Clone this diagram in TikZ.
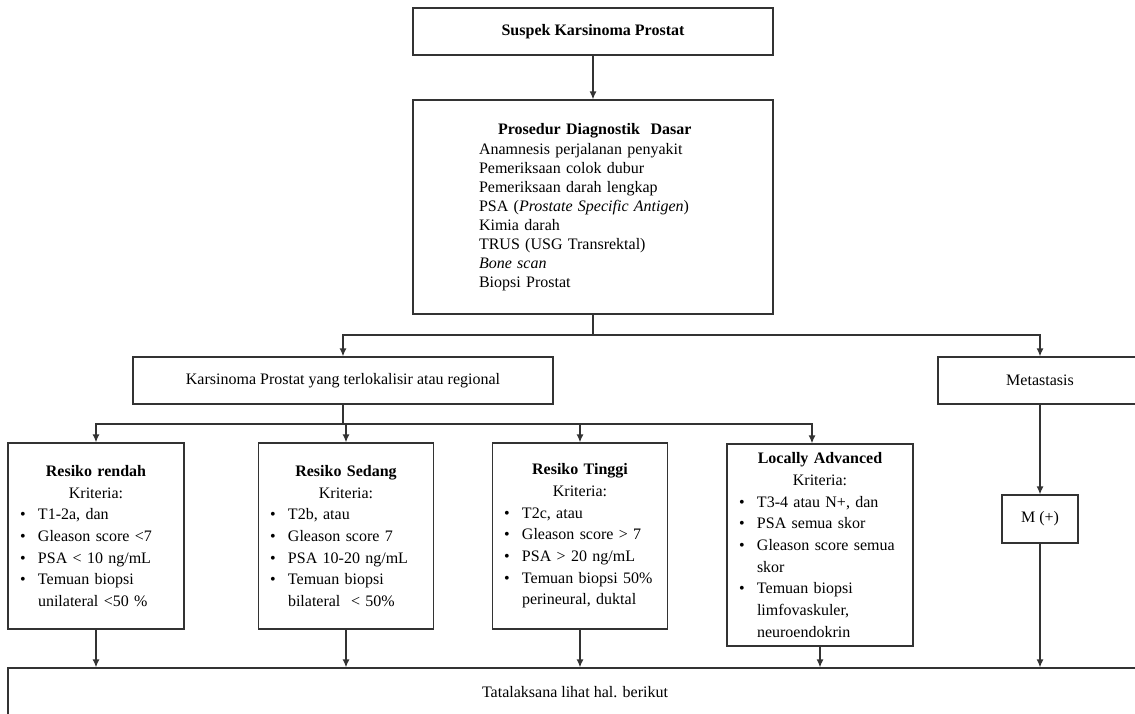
\documentclass[tikz,border=0pt]{standalone}
\usepackage{fontspec}
\setmainfont{Liberation Serif}
\usetikzlibrary{arrows.meta}

\newcommand{\judul}[1]{{\centering\textbf{#1}\\Kriteria:\par}}
\newcommand{\butir}[1]{\par\noindent\makebox[18pt][l]{\textbullet}#1}
\newcommand{\lanjut}[1]{\par\noindent\hspace*{18pt}#1}

\begin{document}
\begin{tikzpicture}[x=1pt,y=-1pt,
                    box/.style={draw=black!80,line width=1.3pt,inner sep=0pt,
                                font=\fontsize{16}{19}\selectfont,align=center},
                    riskbox/.style={box,minimum height=186pt,text width=152pt,
                                    align=left,font=\fontsize{16}{21.7}\selectfont},
                    panah/.style={draw=black!80,line width=1.3pt,-{Latex[length=8pt,width=7pt]}},
                    garis/.style={draw=black!80,line width=1.3pt}
                    ]
   \useasboundingbox (0,0) rectangle (1135,713);
   \clip (0,0) rectangle (1135,713);
   \node[box,minimum width=360pt,minimum height=47pt] (suspek) at (593,31.5) {\textbf{Suspek Karsinoma Prostat}};
   \node[box,minimum width=360pt,minimum height=214pt,text width=228pt,align=left] (diag) at (593,207)
      {\hspace*{19pt}\textbf{Prosedur Diagnostik\ \ Dasar}\\[1pt]
       Anamnesis perjalanan penyakit\\
       Pemeriksaan colok dubur\\
       Pemeriksaan darah lengkap\\
       PSA (\textit{Prostate Specific Antigen})\\
       Kimia darah\\
       TRUS (USG Transrektal)\\
       \textit{Bone scan}\\
       Biopsi Prostat};
   \node[box,minimum width=420pt,minimum height=47pt] (lokal) at (343,380.5) {Karsinoma Prostat yang terlokalisir atau regional};
   \node[box,minimum width=204pt,minimum height=47pt] (meta) at (1040,380.5) {Metastasis};
   \node[riskbox,minimum width=176pt] (rendah) at (96,536)
      {\judul{Resiko rendah}
       \butir{T1-2a, dan}
       \butir{Gleason score <7}
       \butir{PSA < 10 ng/mL}
       \butir{Temuan biopsi}
       \lanjut{unilateral <50 \%}};
   \node[riskbox,minimum width=175pt] (sedang) at (346,536)
      {\judul{Resiko Sedang}
       \butir{T2b, atau}
       \butir{Gleason score 7}
       \butir{PSA 10-20 ng/mL}
       \butir{Temuan biopsi}
       \lanjut{bilateral\ \ < 50\%}};
   \node[riskbox,minimum width=175pt] (tinggi) at (580,536)
      {\judul{Resiko Tinggi}
       \butir{T2c, atau}
       \butir{Gleason score > 7}
       \butir{PSA > 20 ng/mL}
       \butir{Temuan biopsi 50\%}
       \lanjut{perineural, duktal}};
   \node[riskbox,minimum width=186pt,minimum height=202pt,text width=162pt] (lanjut) at (820,545)
      {\judul{Locally Advanced}
       \butir{T3-4 atau N+, dan}
       \butir{PSA semua skor}
       \butir{Gleason score semua}
       \lanjut{skor}
       \butir{Temuan biopsi}
       \lanjut{limfovaskuler,}
       \lanjut{neuroendokrin}};
   \node[box,minimum width=76pt,minimum height=48pt] (mplus) at (1040,519) {M (+)};
   \node[box,minimum width=1134pt,minimum height=48pt] (tata) at (575,692) {Tatalaksana lihat hal. berikut};
   % cabang
   \coordinate (j1) at (593,335);
   \coordinate (j2) at (343,424);
   \path[panah] (suspek) -- (diag);
   \path[garis] (diag.south) -- (j1);
   \path[panah] (j1) -| (lokal.north);
   \path[panah] (j1) -| (meta.north);
   \path[garis] (lokal.south) -- (j2);
   \path[panah] (j2) -| (rendah.north);
   \path[panah] (j2) -| (sedang.north);
   \path[panah] (j2) -| (tinggi.north);
   \path[panah] (j2) -| ([xshift=-8pt]lanjut.north);
   \path[panah] (meta) -- (mplus);
   \path[panah] (rendah.south) -- (rendah.south |- tata.north);
   \path[panah] (sedang.south) -- (sedang.south |- tata.north);
   \path[panah] (tinggi.south) -- (tinggi.south |- tata.north);
   \path[panah] (lanjut.south) -- (lanjut.south |- tata.north);
   \path[panah] (mplus.south) -- (mplus.south |- tata.north);
\end{tikzpicture}
\end{document}
